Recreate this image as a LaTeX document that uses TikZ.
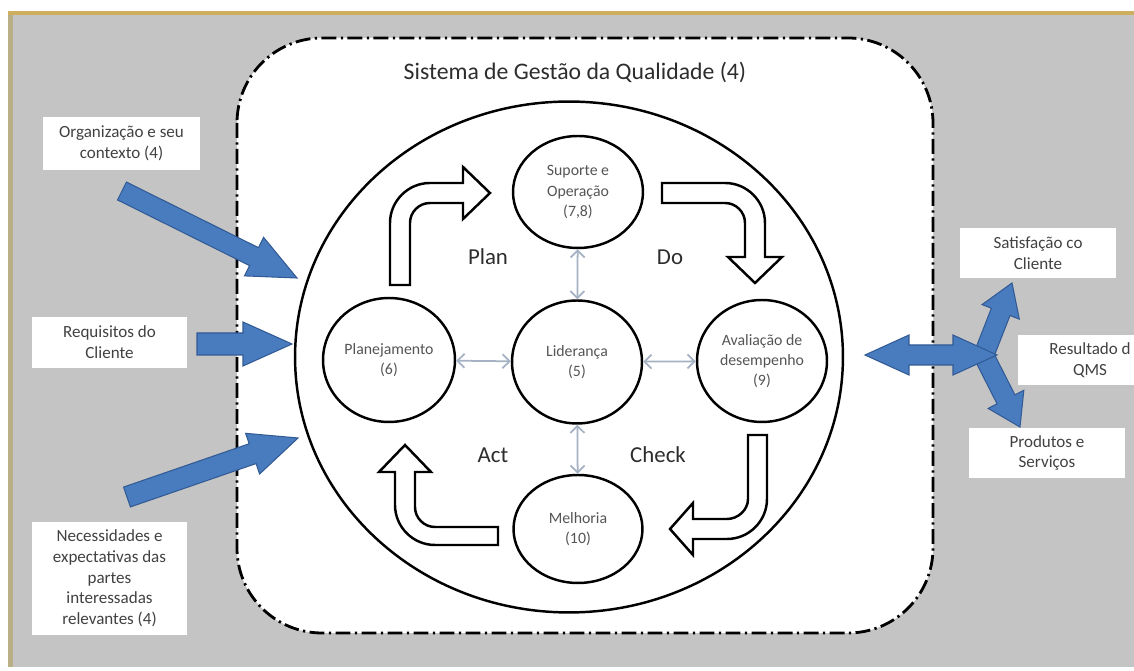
\documentclass[tikz,border=0pt]{standalone}
\usepackage{fontspec}
\setmainfont{Carlito}
\usetikzlibrary{shapes.geometric,arrows.meta,calc}

\definecolor{bggray}{RGB}{196,196,196}
\definecolor{rimgold}{RGB}{205,175,95}
\definecolor{rimtan}{RGB}{185,175,135}
\definecolor{qblue}{RGB}{72,124,190}
\definecolor{qblueedge}{RGB}{50,90,148}
\definecolor{leadgray}{RGB}{165,178,195}
\definecolor{txtgray}{RGB}{65,65,65}
\definecolor{circgray}{RGB}{85,85,85}
\definecolor{pdcagray}{RGB}{45,45,45}

\newcommand{\boxfont}{\fontsize{9.7}{11.8}\selectfont}
\newcommand{\circfont}{\fontsize{9}{11.6}\selectfont}
\newcommand{\pdcafont}{\fontsize{13}{15}\selectfont}
\newcommand{\titlefont}{\fontsize{13.5}{16}\selectfont}

% blue block arrow: tail, tip, half shaft, half head, head length
\newcommand{\bluearrow}[5]{%
  \coordinate (hb) at ($(#2)!#5!(#1)$);
  \filldraw[qarrow] ($(#1)!#3!90:(#2)$) -- ($(hb)!#3!90:(#2)$) -- ($(hb)!#4!90:(#2)$) -- (#2)
    -- ($(hb)!#4!-90:(#2)$) -- ($(hb)!#3!-90:(#2)$) -- ($(#1)!#3!-90:(#2)$) -- cycle;}
% same with two heads
\newcommand{\bluedarrow}[5]{%
  \coordinate (ha) at ($(#1)!#5!(#2)$);
  \coordinate (hb) at ($(#2)!#5!(#1)$);
  \filldraw[qarrow] (#1) -- ($(ha)!#4!90:(#2)$) -- ($(ha)!#3!90:(#2)$) -- ($(hb)!#3!-90:(#1)$)
    -- ($(hb)!#4!-90:(#1)$) -- (#2) -- ($(hb)!#4!90:(#1)$) -- ($(hb)!#3!90:(#1)$)
    -- ($(ha)!#3!-90:(#2)$) -- ($(ha)!#4!-90:(#2)$) -- cycle;}

\begin{document}
\begin{tikzpicture}[x=0.02cm, y=-0.02cm,
  stage/.style={ellipse, draw, line width=1.4pt, fill=white, inner sep=0pt, align=center, font=\circfont, text=circgray},
  infobox/.style={fill=white, inner sep=0pt, align=center, font=\boxfont, text=txtgray, minimum width=3.12cm, minimum height=1cm},
  cyclearrow/.style={draw=black, fill=white, line width=1.4pt, line join=miter},
  leadlink/.style={{Straight Barb[length=4pt,width=8pt]}-{Straight Barb[length=4pt,width=8pt]}, draw=leadgray, line width=1pt},
  sysline/.style={line width=1.6pt, dash pattern=on 8.5pt off 2.5pt on 1.3pt off 2.5pt},
  pdca/.style={font=\pdcafont, text=pdcagray},
  qarrow/.style={fill=qblue, draw=qblueedge, line width=0.6pt, line join=miter}]
\useasboundingbox (0,0) rectangle (1134,671);
\clip (0,0) rectangle (1134,671);

% frame
\fill[white] (0,0) rectangle (1134,671);
\fill[bggray] (10,15) rectangle (1134,667);
\fill[rimtan] (8,13) rectangle (13,667);
\fill[rimgold] (8,11) rectangle (1134,15);

% system boundary
\draw[sysline, fill=white, rounded corners=1.7cm] (237,38) rectangle (933,633);
\node[font=\titlefont, text=pdcagray] (ttl) at (575,72) {Sistema de Gestão da Qualidade (4)};
\draw[line width=1.4pt] (569,357) ellipse [x radius=5.48cm, y radius=5.11cm];

%cycle arrows
\draw[cyclearrow] (390,285) -- (390,223) .. controls (390,201) and (408,183) .. (430,183) -- (463,183) -- (463,167)
  -- (490,193) -- (463,219) -- (463,203) -- (430,203) .. controls (419,203) and (410,212) .. (410,223) -- (410,285) -- cycle;
\draw[cyclearrow] (662,183) -- (725,183) .. controls (747,183) and (765,201) .. (765,223) -- (765,257) -- (782,257)
  -- (755,283) -- (728,257) -- (745,257) -- (745,223) .. controls (745,212) and (736,203) .. (725,203) -- (662,203) -- cycle;
\draw[cyclearrow] (748,435) -- (767,435) -- (767,499) .. controls (767,521) and (749,539) .. (727,539) -- (693,539) -- (693,555)
  -- (670,529) -- (693,503) -- (693,519) -- (727,519) .. controls (738,519) and (748,510) .. (748,499) -- cycle;
\draw[cyclearrow] (498,545) -- (435,545) .. controls (413,545) and (395,527) .. (395,505) -- (395,472) -- (379,472)
  -- (405,445) -- (431,472) -- (415,472) -- (415,507) .. controls (415,518) and (424,527) .. (435,527) -- (498,527) -- cycle;

%circles
\node[stage, minimum width=2.6cm, minimum height=2.24cm] (sup) at (578,192) {Suporte e\\Operação\\(7,8)};
\node[stage, minimum width=2.6cm, minimum height=2.46cm] (lid) at (577,362) {Liderança\\(5)};
\node[stage, minimum width=2.64cm, minimum height=2.48cm] (plj) at (389,360) {Planejamento\\(6)};
\node[stage, minimum width=2.6cm, minimum height=2.44cm] (aval) at (762,361) {Avaliação de\\desempenho\\(9)};
\node[stage, minimum width=2.58cm, minimum height=2.16cm] (mel) at (578,529) {Melhoria\\(10)};

\draw[leadlink] (lid) -- (sup);
\draw[leadlink] (lid) -- (plj);
\draw[leadlink] (lid) -- (aval);
\draw[leadlink] (lid) -- (mel);

%labels
\node[pdca] (plan) at (488,257) {Plan};
\node[pdca] (do) at (670,257) {Do};
\node[pdca] (act) at (493,455) {Act};
\node[pdca] (chk) at (658,455) {Check};

%inputs
\node[infobox, minimum width=3.14cm, minimum height=1.06cm] (org) at (121.5,143.5) {Organização e seu\\contexto (4)};
\node[infobox, minimum width=3.1cm, minimum height=1.02cm] (req) at (109.5,342.5) {Requisitos do\\Cliente};
\node[infobox, minimum width=3.1cm, minimum height=2.26cm] (nec) at (109.5,578.5) {Necessidades e\\expectativas das\\partes\\interessadas\\relevantes (4)};

\coordinate (orgt) at (122,191);
\coordinate (orgh) at (297,278);
\coordinate (reqt) at (197,344);
\coordinate (reqh) at (292,344);
\coordinate (nect) at (127,497);
\coordinate (nech) at (298,438);
\bluearrow{orgt}{orgh}{0.2cm}{0.43cm}{0.96cm}
\bluearrow{reqt}{reqh}{0.22cm}{0.44cm}{0.98cm}
\bluearrow{nect}{nech}{0.21cm}{0.43cm}{0.96cm}

%outputs
\node[infobox] (sat) at (1038,253) {Satisfação co\\Cliente};
\node[infobox, minimum width=2.32cm] (resbox) at (1076,360) {};
\node[font=\boxfont, text=txtgray, align=center, inner sep=0pt] (res) at (1090,360) {Resultado d\\QMS};
\node[infobox] (prod) at (1047,453) {Produtos e\\Serviços};

\coordinate (outl) at (865,355);
\coordinate (outr) at (997,355);
\coordinate (outu) at (985,352);
\coordinate (outd) at (985,358);
\coordinate (sath) at (1012,283);
\coordinate (prodh) at (1020,427);
\bluearrow{outu}{sath}{0.2cm}{0.4cm}{0.62cm}
\bluearrow{outd}{prodh}{0.2cm}{0.4cm}{0.62cm}
\bluedarrow{outl}{outr}{0.2cm}{0.4cm}{0.88cm}

\end{tikzpicture}
\end{document}
